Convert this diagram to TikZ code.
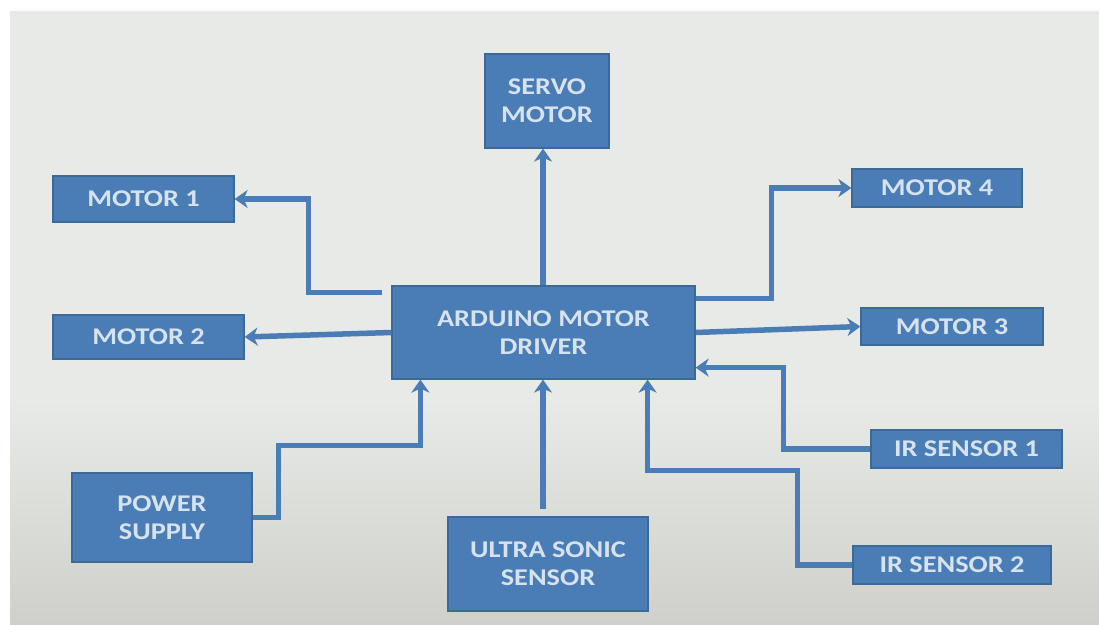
\documentclass[tikz,border=0pt]{standalone}
\usepackage{fontspec}
\setmainfont{Carlito}[FakeStretch=1.18]
\usetikzlibrary{arrows.meta,calc}
\definecolor{boxblue}{HTML}{4A7DB6}
\definecolor{boxedge}{HTML}{3B6998}
\definecolor{boxtext}{HTML}{D6E2EE}
\definecolor{bgtop}{HTML}{E7EAE6}
\definecolor{bgbot}{HTML}{CFD0CC}
\tikzset{
  blk/.style={draw=boxedge, line width=1.2pt, fill=boxblue, text=boxtext,
    font=\bfseries\fontsize{24}{28}\selectfont, align=center, inner sep=0pt},
  arr/.style={draw=boxblue, line width=5.5pt,
    -{Stealth[length=13pt,width=18pt,inset=4pt]}}
}
\begin{document}
\begin{tikzpicture}[x=1pt,y=-1pt]
\useasboundingbox (0,0) rectangle (1099,624);
\fill[white] (0,0) rectangle (1099,624);
\fill[bgtop] (10,11) rectangle (1099,400);
\shade[top color=bgtop, bottom color=bgbot] (10,399.5) rectangle (1099,624);

\node[blk, minimum width=124pt, minimum height=94pt] (servo) at (547,101) {SERVO\\MOTOR};
\node[blk, minimum width=181pt, minimum height=46pt] (motor1) at (143.5,199) {MOTOR 1};
\node[blk, minimum width=191pt, minimum height=44pt] (motor2) at (148.5,337) {MOTOR 2};
\node[blk, minimum width=303pt, minimum height=93pt] (arduino) at (543.5,332.5) {ARDUINO MOTOR\\DRIVER};
\node[blk, minimum width=170pt, minimum height=38pt] (motor4) at (937,188) {MOTOR 4};
\node[blk, minimum width=182pt, minimum height=37pt] (motor3) at (952,326.5) {MOTOR 3};
\node[blk, minimum width=191pt, minimum height=38pt] (ir1) at (966.5,449) {IR SENSOR 1};
\node[blk, minimum width=198pt, minimum height=38pt] (ir2) at (952,565) {IR SENSOR 2};
\node[blk, minimum width=180pt, minimum height=89pt] (power) at (162,517.5) {POWER\\SUPPLY};
\node[blk, minimum width=200pt, minimum height=94pt] (ultra) at (548,564) {ULTRA SONIC\\SENSOR};

\draw[arr] ($(arduino.north)+(-0.5,0)$) -- ($(arduino.north |- servo.south)+(-0.5,0)$);
\draw[arr] ($(arduino.north west)+(-9,7)$) -| ($(motor1.east)+(74,0)$) -- (motor1.east);
\draw[arr] (arduino.west) -- (motor2.east);
\draw[arr] ($(arduino.north east)+(0,13)$) -| ($(motor4.west)+(-80,0)$) -- (motor4.west);
\draw[arr] (arduino.east) -- (motor3.west);
\draw[arr] (ir1.west) -| ($(arduino.south east)+(88,-12)$) -- ($(arduino.south east)+(0,-12)$);
\draw[arr] (ir2.west) -| ($(arduino.south east)+(102,91)$) -| ($(arduino.south east)+(-48,0)$);
\draw[arr] (power.east) -| ($(arduino.south west)+(-113,66)$) -| ($(arduino.south west)+(29,0)$);
\draw[arr] ($(ultra.north)+(-5,-7)$) -- ($(arduino.south)+(-0.5,0)$);
\end{tikzpicture}
\end{document}
